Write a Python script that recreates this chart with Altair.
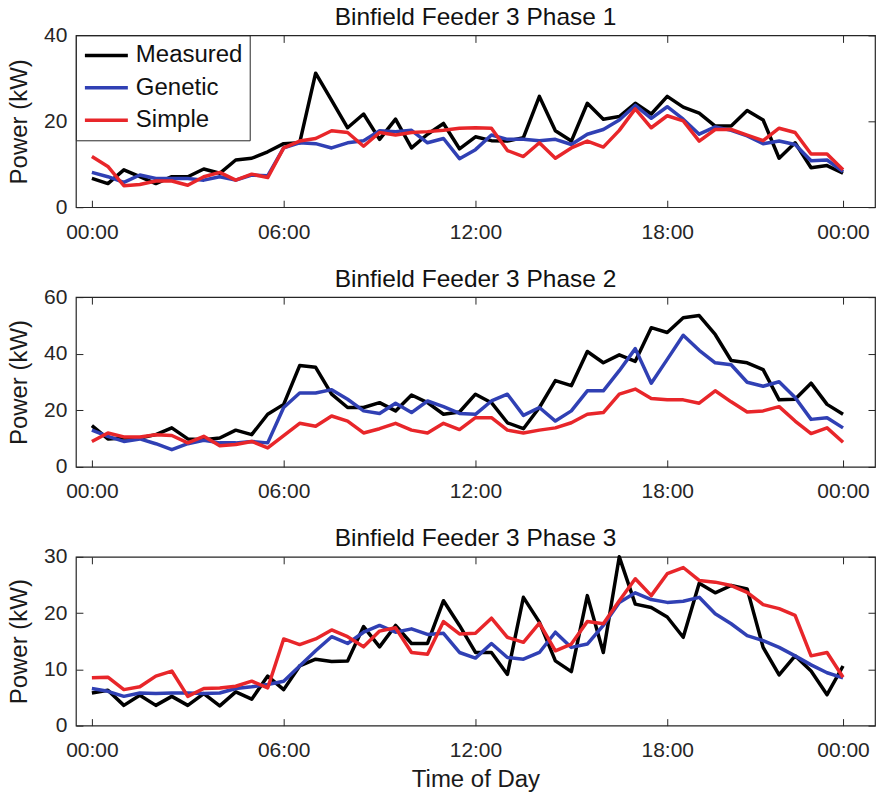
import altair as alt
import pandas as pd

FONT = "Liberation Sans"

# half-hour slots (index 0 = 00:00, 47 = 23:30)
slots = list(range(48))
tick_positions = [0, 12, 24, 36, 47]
tick_labels = ["00:00", "06:00", "12:00", "18:00", "00:00"]

series_names = ["Measured", "Genetic", "Simple"]
series_colors = ["#000000", "#3040b4", "#e8262a"]

panel_titles = ["Binfield Feeder 3 Phase 1", "Binfield Feeder 3 Phase 2", "Binfield Feeder 3 Phase 3"]
y_max = [40, 60, 30]
y_ticks = [[0, 20, 40], [0, 20, 40, 60], [0, 10, 20, 30]]
panel_heights = [172, 170, 169]

p1_measured = [6.7, 5.5, 8.7, 7.1, 5.5, 7.1, 7.1, 8.9, 7.9, 11.0, 11.4, 12.9, 14.8, 15.0, 31.2, 24.9,
               18.5, 21.7, 15.8, 20.5, 13.8, 17.0, 19.5, 13.6, 16.4, 15.5, 15.4, 16.2, 25.8, 17.8,
               15.4, 24.2, 20.5, 21.1, 24.2, 21.7, 25.8, 23.3, 21.9, 18.9, 18.9, 22.5, 20.3, 11.4,
               15.0, 9.2, 9.7, 7.9]
p1_genetic = [8.1, 7.1, 5.8, 7.5, 6.7, 6.7, 6.7, 6.3, 7.1, 6.3, 7.5, 7.3, 13.8, 15.0, 14.8, 13.8,
              15.0, 15.5, 17.8, 17.6, 17.9, 15.0, 16.0, 11.3, 13.4, 16.8, 15.8, 15.8, 15.5, 15.8,
              14.6, 17.0, 18.1, 20.3, 23.7, 20.7, 23.4, 20.5, 17.0, 18.7, 17.9, 16.6, 14.8, 15.4,
              14.6, 10.8, 11.0, 8.3]
p1_simple = [11.8, 9.5, 5.0, 5.3, 6.1, 6.1, 5.1, 7.1, 8.1, 6.3, 7.7, 6.9, 13.8, 15.4, 16.0, 17.8,
             17.4, 14.2, 17.4, 16.8, 17.4, 17.6, 17.9, 18.4, 18.5, 18.4, 13.2, 11.8, 15.0, 11.4,
             13.8, 15.4, 14.0, 17.9, 22.9, 18.5, 21.3, 20.1, 15.4, 18.1, 18.1, 16.8, 15.5, 18.4,
             17.4, 12.4, 12.4, 8.7]

p2_measured = [14.6, 9.9, 10.2, 10.2, 11.4, 13.8, 9.9, 9.6, 10.2, 13.0, 11.4, 18.6, 22.1, 35.8, 35.2,
               25.7, 21.0, 21.0, 22.7, 19.8, 25.4, 22.7, 18.6, 19.4, 25.7, 22.7, 15.6, 13.5, 21.0,
               30.5, 28.7, 40.8, 36.8, 39.6, 37.3, 49.2, 47.5, 52.7, 53.5, 46.8, 37.6, 36.8, 34.4,
               23.7, 23.9, 29.6, 22.1, 18.6]
p2_genetic = [13.0, 10.8, 9.0, 9.9, 8.2, 6.1, 8.2, 9.4, 8.5, 8.5, 9.0, 8.5, 21.0, 26.1, 26.1, 27.3,
              23.9, 19.8, 18.9, 22.5, 19.2, 23.3, 21.3, 18.9, 18.6, 23.3, 25.7, 18.2, 21.0, 16.2,
              19.8, 26.9, 26.9, 34.0, 41.8, 29.6, 38.0, 46.5, 41.2, 36.8, 36.1, 29.9, 28.5, 30.1,
              24.5, 16.8, 17.4, 13.8]
p2_simple = [9.0, 12.0, 10.6, 10.6, 11.4, 11.1, 8.5, 10.8, 7.5, 7.9, 9.0, 6.7, 11.1, 15.4, 14.4, 18.0,
             16.2, 12.0, 13.5, 15.4, 13.0, 12.0, 15.4, 13.2, 17.4, 17.4, 13.0, 12.0, 13.0, 13.8,
             15.6, 18.6, 19.2, 25.7, 27.5, 24.2, 23.7, 23.7, 22.5, 26.9, 23.0, 19.4, 19.8, 21.3,
             16.2, 11.8, 13.8, 8.7]

p3_measured = [5.8, 6.3, 3.6, 5.4, 3.6, 5.2, 3.6, 5.7, 3.5, 6.0, 4.7, 8.8, 6.4, 10.6, 11.8, 11.4,
               11.5, 17.6, 14.0, 17.8, 14.6, 14.6, 22.2, 17.8, 13.0, 13.0, 9.1, 22.8, 18.4, 11.5,
               9.6, 23.1, 13.0, 30.0, 21.6, 21.0, 19.3, 15.7, 25.3, 23.6, 24.9, 24.3, 13.9, 9.0,
               12.4, 9.7, 5.5, 10.6]
p3_genetic = [6.6, 6.1, 5.2, 5.8, 5.7, 5.8, 5.8, 5.7, 5.8, 6.6, 6.9, 7.3, 7.9, 10.6, 13.3, 15.8,
              14.6, 16.6, 17.8, 16.6, 17.2, 16.2, 16.4, 13.0, 12.0, 14.6, 12.1, 11.8, 13.0, 16.6,
              13.9, 14.5, 17.8, 21.9, 23.6, 22.4, 21.9, 22.1, 22.8, 19.9, 18.1, 16.0, 15.1, 13.9,
              12.4, 10.8, 9.4, 8.5]
p3_simple = [8.5, 8.6, 6.4, 6.9, 8.8, 9.7, 5.2, 6.6, 6.7, 7.0, 7.9, 6.7, 15.4, 14.4, 15.4, 17.0,
             15.8, 14.0, 16.8, 17.4, 13.0, 12.7, 18.5, 16.3, 16.4, 19.1, 15.7, 14.8, 18.2, 13.3,
             14.5, 18.5, 18.1, 22.2, 26.1, 23.1, 27.0, 28.1, 25.8, 25.5, 24.9, 23.7, 21.5, 20.8,
             19.6, 12.4, 13.0, 8.6]

panels_data = [
    [p1_measured, p1_genetic, p1_simple],
    [p2_measured, p2_genetic, p2_simple],
    [p3_measured, p3_genetic, p3_simple],
]

label_expr = " : ".join(f"datum.value == {p} ? '{l}'" for p, l in zip(tick_positions, tick_labels)) + " : ''"

TICK = 7
LINE_W = 3.5
x_scale = alt.Scale(domain=[-1, 49], nice=False, zero=False)


def make_panel(k):
    rows = []
    for name, vals in zip(series_names, panels_data[k]):
        for t, v in zip(slots, vals):
            rows.append({"t": t, "value": v, "series": name})
    df = pd.DataFrame(rows)
    y_scale = alt.Scale(domain=[0, y_max[k]], nice=False, zero=True)

    if k == 0:
        legend = alt.Legend(
            title=None, orient="top-left", offset=0, symbolType="stroke", symbolSize=1849,
            symbolStrokeWidth=LINE_W, labelFontSize=24, labelFont=FONT, labelColor="#111111",
            strokeColor="#262626", fillColor="white", padding=7, rowPadding=6.5,
            clipHeight=26, labelOffset=6, labelLimit=300,
        )
    else:
        legend = None
    color = alt.Color("series:N", scale=alt.Scale(domain=series_names, range=series_colors),
                      legend=legend)

    bottom_axis = alt.Axis(
        orient="bottom", values=tick_positions, labelExpr=label_expr, offset=-TICK, tickSize=TICK,
        domain=False, grid=False, labelPadding=14, labelFontSize=21, labelFont=FONT,
        labelColor="#262626", tickColor="#262626", labelFlush=False,
        title="Time of Day" if k == 2 else None, titleFontSize=24, titleFont=FONT,
        titleFontWeight="normal", titleColor="#1a1a1a", titlePadding=7,
    )
    left_axis = alt.Axis(
        orient="left", values=y_ticks[k], offset=-TICK, tickSize=TICK, domain=False, grid=False,
        labelPadding=9, labelFontSize=21, labelFont=FONT, labelColor="#262626",
        tickColor="#262626", labelFlush=False, title="Power (kW)", titleFontSize=24,
        titleFont=FONT, titleFontWeight="normal", titleColor="#1a1a1a", titlePadding=12,
    )
    top_axis = alt.Axis(orient="top", values=tick_positions, offset=-TICK, tickSize=TICK,
                        domain=False, grid=False, labels=False, title=None, tickColor="#262626")
    right_axis = alt.Axis(orient="right", values=y_ticks[k], offset=-TICK, tickSize=TICK,
                          domain=False, grid=False, labels=False, title=None, tickColor="#262626")

    layers = []
    for j, name in enumerate(series_names):
        layers.append(
            alt.Chart(df).transform_filter(alt.datum.series == name)
            .mark_line(strokeWidth=LINE_W, strokeJoin="round")
            .encode(
                x=alt.X("t:Q", scale=x_scale, axis=bottom_axis if j == 0 else None),
                y=alt.Y("value:Q", scale=y_scale, axis=left_axis if j == 0 else None),
                color=color,
            )
        )
    frame_axes = alt.Chart(df).mark_point(opacity=0).encode(
        x=alt.X("t:Q", scale=x_scale, axis=top_axis),
        y=alt.Y("value:Q", scale=y_scale, axis=right_axis),
    )
    layers.append(frame_axes)

    return alt.layer(*layers).resolve_axis(x="independent", y="independent").properties(
        width=800, height=panel_heights[k],
        title=alt.TitleParams(panel_titles[k], font=FONT, fontSize=24.5, fontWeight="normal",
                              color="#111111", offset=-6, anchor="middle", frame="group"),
    )


chart = alt.vconcat(*[make_panel(k) for k in range(3)], spacing=22).properties(
    padding={"left": 7, "top": 3, "right": 1, "bottom": 4},
    background="white",
).configure_view(stroke="#262626", strokeWidth=1.2)

chart.save("out.html", embed_options={"renderer": "svg", "actions": False})
